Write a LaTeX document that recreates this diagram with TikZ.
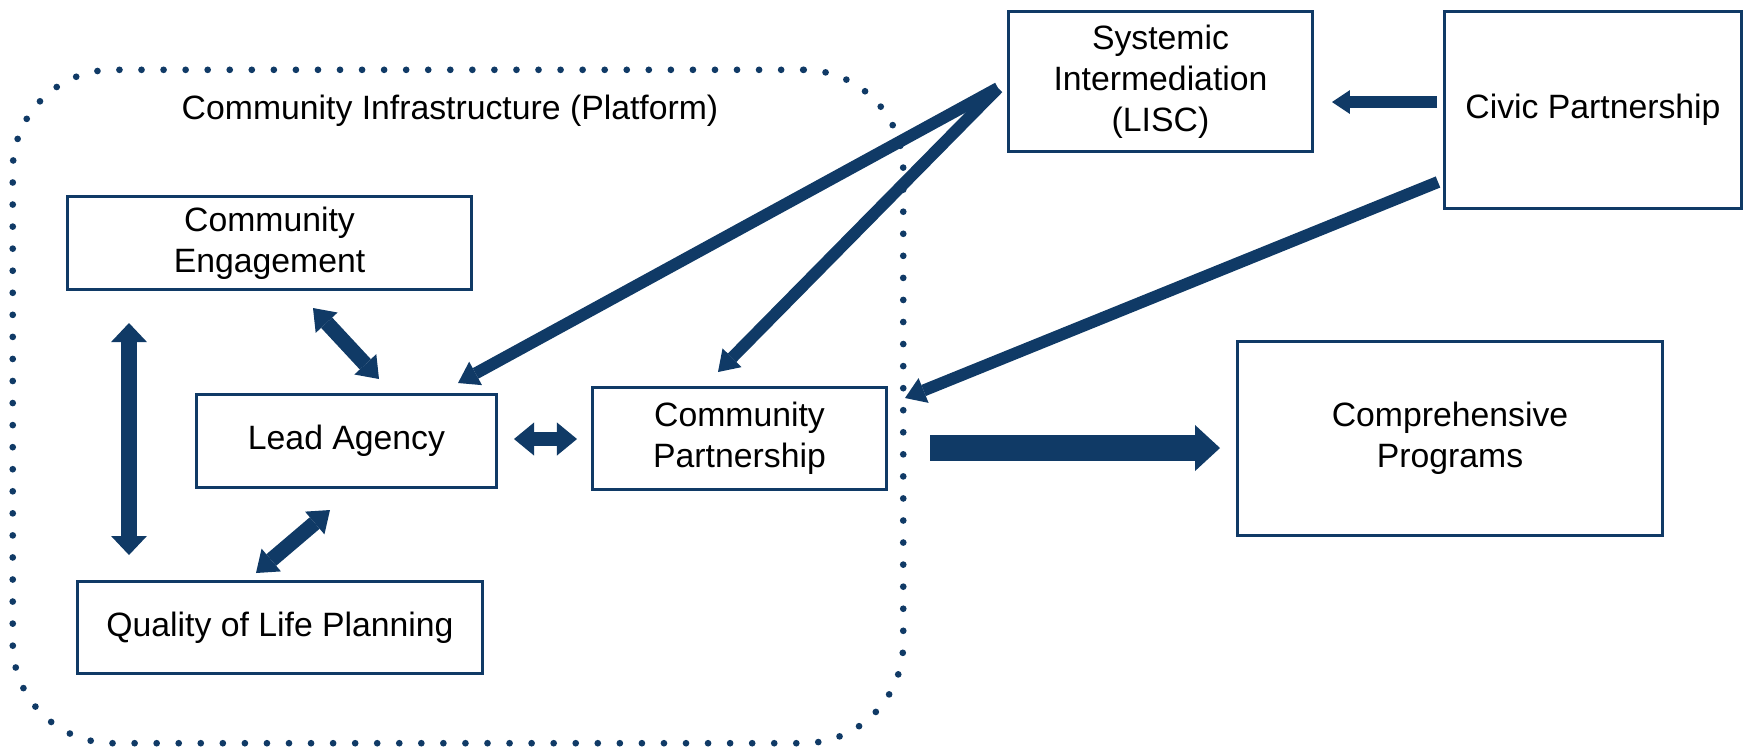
\documentclass[tikz,border=0pt]{standalone}
\usepackage{fontspec}
\setmainfont{Liberation Sans}
\usetikzlibrary{arrows.meta}
\definecolor{navy}{RGB}{16,58,102}
\begin{document}
\begin{tikzpicture}[x=0.01cm,y=-0.01cm,
  box/.style={draw=navy,line width=0.85pt,fill=white,inner sep=0pt,align=center,
    font=\fontsize{9.6}{11.6}\selectfont},
  txt/.style={inner sep=0pt,font=\fontsize{9.6}{11.6}\selectfont},
  frame/.style={draw=navy,line width=1.9pt,line cap=round,dash pattern=on 0pt off 6.272pt,
    rounded corners=1cm,inner sep=0pt},
  arr/.style n args={3}{color=navy,line width=#1,
    arrows={-Triangle[length=#2,width=#3,line width=0pt]}},
  darr/.style n args={3}{color=navy,line width=#1,
    arrows={Triangle[length=#2,width=#3,line width=0pt]-Triangle[length=#2,width=#3,line width=0pt]}},
]
\useasboundingbox (0,0) rectangle (1744,747);

% platform frame
\node[frame,minimum width=8.9cm,minimum height=6.73cm] (infra) at (458,406.5) {};
\node[txt] (title) at (450,111) {Community Infrastructure (Platform)};

% boxes
\node[box,minimum width=4.03cm,minimum height=0.92cm] (ce) at (269.5,243) {Community\\Engagement};
\node[box,minimum width=2.99cm,minimum height=0.92cm] (la) at (346.5,441) {Lead Agency};
\node[box,minimum width=2.93cm,minimum height=1.01cm] (cp) at (739.5,438.5) {Community\\Partnership};
\node[box,minimum width=4.04cm,minimum height=0.91cm] (qol) at (280,627.5) {Quality of Life Planning};
\node[box,minimum width=3.03cm,minimum height=1.39cm] (sys) at (1160.5,81.5) {Systemic\\Intermediation\\(LISC)};
\node[box,minimum width=2.96cm,minimum height=1.96cm] (civ) at (1593,110) {Civic Partnership};
\node[box,minimum width=4.24cm,minimum height=1.93cm] (prog) at (1450,438.5) {Comprehensive\\Programs};

% connector end points
\coordinate (v1) at (129,323);
\coordinate (v2) at (129,555);
\coordinate (a1) at (313,308);
\coordinate (a2) at (379,379);
\coordinate (b1) at (330,510);
\coordinate (b2) at (256,573);
\coordinate (c1) at (514,439);
\coordinate (c2) at (577,439);
\coordinate (s0) at (998,88);
\coordinate (s1) at (458,383);
\coordinate (s2) at (718,372);
\coordinate (k1) at (1437,102);
\coordinate (k2) at (1332,102);
\coordinate (k3) at (1438,182);
\coordinate (k4) at (905,398);
\coordinate (p1) at (930,448);
\coordinate (p2) at (1220,448);

% connectors
\draw[darr={4.8pt}{5.4pt}{10.2pt}] (v1) -- (v2);
\draw[darr={4.3pt}{5.7pt}{8.5pt}] (a1) -- (a2);
\draw[darr={4.3pt}{5.7pt}{8.5pt}] (b1) -- (b2);
\draw[darr={4pt}{5.7pt}{9.4pt}] (c1) -- (c2);
\draw[arr={3.4pt}{5.7pt}{7.6pt}] (s0) -- (s1);
\draw[arr={3.4pt}{5.7pt}{7.6pt}] (s0) -- (s2);
\draw[arr={3.5pt}{5.1pt}{6.8pt}] (k1) -- (k2);
\draw[arr={3.4pt}{5.7pt}{7.6pt}] (k3) -- (k4);
\draw[arr={7.2pt}{7.1pt}{13.1pt}] (p1) -- (p2);
\end{tikzpicture}
\end{document}
